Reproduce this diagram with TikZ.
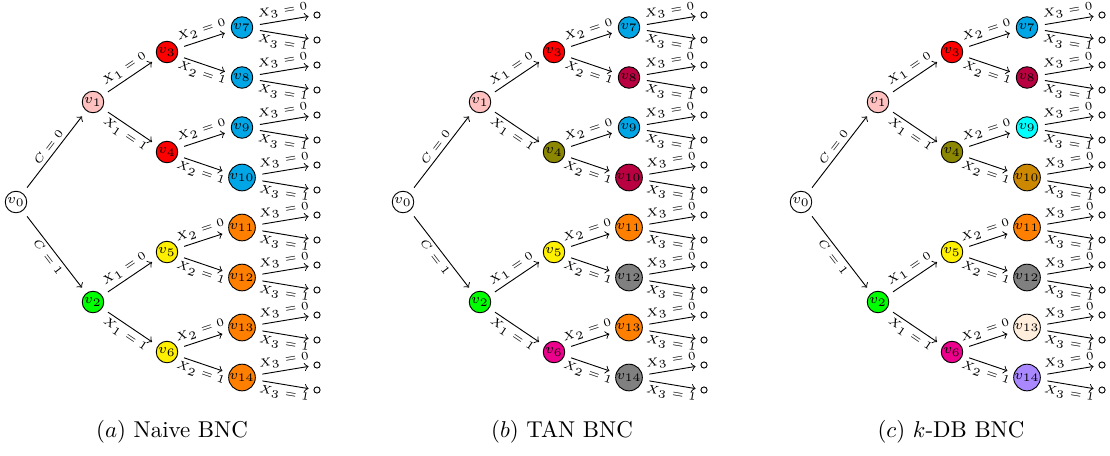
\documentclass[tikz,border=0pt]{standalone}
\DeclareMathSizes{6}{6}{5}{5}
\DeclareMathSizes{5.5}{5}{5}{5}
\newcommand\fs{\fontsize{6}{7}\selectfont}
\newcommand\fsl{\fontsize{5.5}{6.5}\selectfont}
% colours
\definecolor{cpink}{RGB}{255,192,192}
\definecolor{cgreen}{RGB}{0,255,0}
\definecolor{cred}{RGB}{255,0,0}
\definecolor{cyell}{RGB}{255,240,0}
\definecolor{cblue}{RGB}{0,166,230}
\definecolor{corange}{RGB}{255,128,0}
\definecolor{colive}{RGB}{140,135,0}
\definecolor{cmag}{RGB}{236,0,140}
\definecolor{cpurple}{RGB}{185,0,65}
\definecolor{cgray}{RGB}{128,128,128}
\definecolor{ccyan}{RGB}{0,255,255}
\definecolor{cbrown}{RGB}{204,136,0}
\definecolor{cpeach}{RGB}{255,238,220}
\definecolor{clav}{RGB}{170,136,255}
% tree a
\colorlet{ac0}{white}\colorlet{ac1}{cpink}\colorlet{ac2}{cgreen}
\colorlet{ac3}{cred}\colorlet{ac4}{cred}\colorlet{ac5}{cyell}\colorlet{ac6}{cyell}
\colorlet{ac7}{cblue}\colorlet{ac8}{cblue}\colorlet{ac9}{cblue}\colorlet{ac10}{cblue}
\colorlet{ac11}{corange}\colorlet{ac12}{corange}\colorlet{ac13}{corange}\colorlet{ac14}{corange}
% tree b
\colorlet{bc0}{white}\colorlet{bc1}{cpink}\colorlet{bc2}{cgreen}
\colorlet{bc3}{cred}\colorlet{bc4}{colive}\colorlet{bc5}{cyell}\colorlet{bc6}{cmag}
\colorlet{bc7}{cblue}\colorlet{bc8}{cpurple}\colorlet{bc9}{cblue}\colorlet{bc10}{cpurple}
\colorlet{bc11}{corange}\colorlet{bc12}{cgray}\colorlet{bc13}{corange}\colorlet{bc14}{cgray}
% tree c
\colorlet{cc0}{white}\colorlet{cc1}{cpink}\colorlet{cc2}{cgreen}
\colorlet{cc3}{cred}\colorlet{cc4}{colive}\colorlet{cc5}{cyell}\colorlet{cc6}{cmag}
\colorlet{cc7}{cblue}\colorlet{cc8}{cpurple}\colorlet{cc9}{ccyan}\colorlet{cc10}{cbrown}
\colorlet{cc11}{corange}\colorlet{cc12}{cgray}\colorlet{cc13}{cpeach}\colorlet{cc14}{clav}
\tikzset{
  vtx/.style={circle, draw, line width=0.4pt, minimum size=9.4pt, inner sep=0pt, outer sep=3.2pt, font=\fs},
  leafnode/.style={circle, draw, line width=0.4pt, minimum size=2.7pt, inner sep=0pt, outer sep=2.4pt},
  edge/.style={->, line width=0.4pt},
  lab/.style={font=\fsl, inner sep=1.5pt, sloped, midway},
  capt/.style={font=\normalsize, inner sep=0pt}
}
\newcommand\bnctree[2]{%
  \node[vtx, fill=#1c0] (#1v0) at (#2+16,202) {$v_0$};
  \node[vtx, fill=#1c1] (#1v1) at (#2+93,102) {$v_1$};
  \node[vtx, fill=#1c2] (#1v2) at (#2+93,302) {$v_2$};
  \draw[edge] (#1v0) -- node[lab,above]{$C=0$} (#1v1);
  \draw[edge] (#1v0) -- node[lab,below]{$C=1$} (#1v2);
  \foreach \i in {3,...,6}{%
    \pgfmathtruncatemacro\p{(\i-1)/2}%
    \pgfmathtruncatemacro\b{mod(\i+1,2)}%
    \ifnum\b=0 \def\pos{above}\else\def\pos{below}\fi
    \node[vtx, fill=#1c\i] (#1v\i) at (#2+167,{52+100*(\i-3)}) {$v_{\i}$};
    \draw[edge] (#1v\p) -- node[lab,\pos]{$X_1=\b$} (#1v\i);
  }
  \foreach \i in {7,...,14}{%
    \pgfmathtruncatemacro\p{(\i-1)/2}%
    \pgfmathtruncatemacro\b{mod(\i+1,2)}%
    \ifnum\b=0 \def\pos{above}\else\def\pos{below}\fi
    \node[vtx, fill=#1c\i] (#1v\i) at (#2+242,{27.5+50*(\i-7)}) {$v_{\i}$};
    \draw[edge] (#1v\p) -- node[lab,\pos]{$X_2=\b$} (#1v\i);
    \node[leafnode] (#1l\i a) at (#2+317,{15+50*(\i-7)}) {};
    \node[leafnode] (#1l\i b) at (#2+317,{40+50*(\i-7)}) {};
    \draw[edge] (#1v\i) -- node[lab,above]{$X_3=0$} (#1l\i a);
    \draw[edge] (#1v\i) -- node[lab,below]{$X_3=1$} (#1l\i b);
  }
}
\begin{document}
\begin{tikzpicture}[x=0.4367pt, y=-0.4367pt]
  \useasboundingbox (0,0) rectangle (1110,455);
  \bnctree{a}{0}
  \bnctree{b}{387}
  \bnctree{c}{785}
  \node[capt] (capa) at (172,432) {$(a)$ Naive BNC};
  \node[capt] (capb) at (562,432) {$(b)$ TAN BNC};
  \node[capt] (capc) at (951,432) {$(c)$ $k$-DB BNC};
\end{tikzpicture}
\end{document}
